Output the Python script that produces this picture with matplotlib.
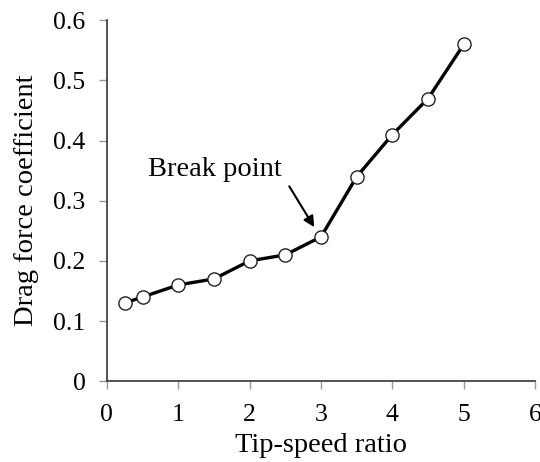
import matplotlib
matplotlib.use("Agg")
import matplotlib.pyplot as plt

# tip-speed ratio vs drag coefficient
tsr = [0.25, 0.5, 1.0, 1.5, 2.0, 2.5, 3.0, 3.5, 4.0, 4.5, 5.0]
cd = [0.13, 0.14, 0.16, 0.17, 0.20, 0.21, 0.24, 0.34, 0.41, 0.47, 0.56]

xticks = [0, 1, 2, 3, 4, 5, 6]
yticks = [0, 0.1, 0.2, 0.3, 0.4, 0.5, 0.6]
ytick_labels = ["0", "0.1", "0.2", "0.3", "0.4", "0.5", "0.6"]

plt.rcParams['font.family'] = ['Liberation Serif', 'DejaVu Serif']

fig = plt.figure(figsize=(5.4, 4.62), dpi=100)
ax = fig.add_axes([0.198, 0.175, 0.793, 0.781])

ax.plot(tsr, cd, color='black', lw=2.4, marker='o', markersize=9.5,
        markerfacecolor='white', markeredgecolor='#222222', markeredgewidth=1.0,
        clip_on=False, zorder=3)

ax.text(0.575, 0.341, "Break point", fontsize=20.5, ha='left', va='baseline')
ax.annotate("", xy=(2.905, 0.256), xytext=(2.555, 0.324),
            arrowprops=dict(arrowstyle='-|>', color='black', lw=1.5,
                            mutation_scale=16, shrinkA=0, shrinkB=0))

ax.set_xlim(0, 6)
ax.set_ylim(0, 0.6)
ax.set_xticks(xticks)
ax.set_yticks(yticks)
ax.set_yticklabels(ytick_labels)

for side in ['top', 'right']:
    ax.spines[side].set_visible(False)
for side in ['left', 'bottom']:
    ax.spines[side].set_color('#444444')
    ax.spines[side].set_linewidth(1.3)

ax.tick_params(direction='out', length=5.5, width=1.0, color='#999999',
               labelsize=18.5)
ax.tick_params(axis='y', pad=10)
ax.tick_params(axis='x', pad=11)
ax.set_xlabel("Tip-speed ratio", fontsize=20.5, labelpad=5)
ax.set_ylabel("Drag force coefficient", fontsize=20.5, labelpad=10)

fig.savefig("out.png", dpi=100)
